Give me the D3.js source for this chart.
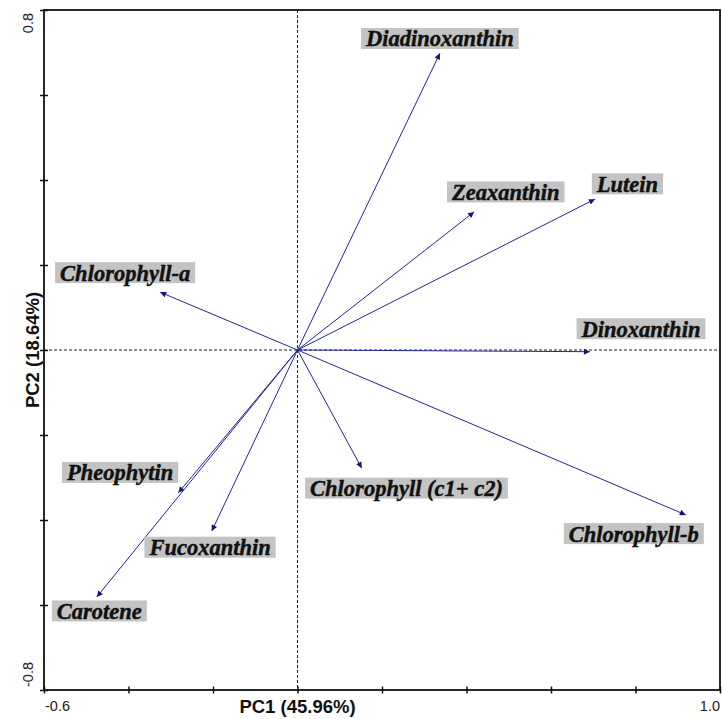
<!DOCTYPE html>
<html>
<head>
<meta charset="utf-8">
<script src="https://cdn.jsdelivr.net/npm/d3@7"></script>
<style>
  html, body { margin: 0; padding: 0; background: #fff; }
  svg { display: block; }
</style>
</head>
<body>
<svg id="chart" width="722" height="719"></svg>
<script>
// PCA loadings of pigment variables on the first two components
const variables = ["Diadinoxanthin", "Zeaxanthin", "Lutein", "Dinoxanthin", "Chlorophyll-b",
                   "Chlorophyll (c1+ c2)", "Chlorophyll-a", "Pheophytin", "Fucoxanthin", "Carotene"];
const pc1 = [0.337, 0.418, 0.704, 0.692, 0.919, 0.152, -0.325, -0.282, -0.203, -0.475];
const pc2 = [0.698, 0.325, 0.355, -0.004, -0.388, -0.278, 0.136, -0.336, -0.426, -0.581];

// Label anchor points (centre of each label, in PC units)
const labelPC1 = [0.337, 0.493, 0.781, 0.813, 0.796, 0.258, -0.408, -0.420, -0.207, -0.469];
const labelPC2 = [0.733, 0.372, 0.391, 0.050, -0.432, -0.325, 0.182, -0.288, -0.464, -0.614];

const xDomain = [-0.6, 1.0];
const yDomain = [-0.8, 0.8];
const xTicks = [-0.6, -0.4, -0.2, 0.0, 0.2, 0.4, 0.6, 0.8, 1.0];
const yTicks = [-0.8, -0.6, -0.4, -0.2, 0.0, 0.2, 0.4, 0.6, 0.8];
const xTitle = "PC1 (45.96%)";
const yTitle = "PC2 (18.64%)";

const svg = d3.select("#chart");
const plotL = 44, plotR = 720, plotT = 10, plotB = 690;

const x = d3.scaleLinear().domain(xDomain).range([plotL, plotR]);
const y = d3.scaleLinear().domain(yDomain).range([plotB, plotT]);

// zero reference lines
svg.append("line")
  .attr("x1", x(0)).attr("x2", x(0)).attr("y1", plotT).attr("y2", plotB)
  .attr("stroke", "#222").attr("stroke-width", 1).attr("stroke-dasharray", "3,2");
svg.append("line")
  .attr("x1", plotL).attr("x2", plotR).attr("y1", y(0)).attr("y2", y(0))
  .attr("stroke", "#222").attr("stroke-width", 1).attr("stroke-dasharray", "3,2");

// arrow marker
const defs = svg.append("defs");
defs.append("marker")
  .attr("id", "head")
  .attr("viewBox", "0 0 10 10")
  .attr("refX", 10).attr("refY", 5)
  .attr("markerUnits", "userSpaceOnUse")
  .attr("markerWidth", 8).attr("markerHeight", 6)
  .attr("orient", "auto")
  .append("path")
  .attr("d", "M0,0 L10,5 L0,10 Z")
  .attr("fill", "#14147a");

// loading vectors
svg.append("g")
  .selectAll("line")
  .data(variables)
  .join("line")
  .attr("x1", x(0)).attr("y1", y(0))
  .attr("x2", (d, i) => x(pc1[i]))
  .attr("y2", (d, i) => y(pc2[i]))
  .attr("stroke", "#24249a")
  .attr("stroke-width", 1)
  .attr("marker-end", "url(#head)");

// variable labels on grey boxes
const labels = svg.append("g")
  .selectAll("g")
  .data(variables)
  .join("g")
  .attr("transform", (d, i) => `translate(${x(labelPC1[i])},${y(labelPC2[i])})`);

labels.append("rect").attr("fill", "#c3c3c3");
const texts = labels.append("text")
  .attr("text-anchor", "middle")
  .attr("y", 8)
  .attr("font-family", "'Liberation Serif', 'Times New Roman', serif")
  .attr("font-weight", "bold")
  .attr("font-style", "italic")
  .attr("font-size", 22.5)
  .attr("fill", "#111")
  .attr("stroke", "#111")
  .attr("stroke-width", 0.45)
  .text(d => d);

texts.each(function () {
  const w = this.getComputedTextLength();
  d3.select(this.parentNode).select("rect")
    .attr("x", -w / 2 - 5).attr("y", -10.5)
    .attr("width", w + 10).attr("height", 21);
});

// axes with crossing ticks
const axB = svg.append("g")
  .attr("transform", `translate(0,${plotB})`)
  .call(d3.axisBottom(x).tickValues(xTicks).tickFormat("").tickSizeOuter(0));
axB.selectAll(".tick line").attr("y1", -3.5).attr("y2", 3.5).attr("stroke", "#111").attr("stroke-width", 1.5);
axB.select(".domain").remove();

const axL = svg.append("g")
  .attr("transform", `translate(${plotL},0)`)
  .call(d3.axisLeft(y).tickValues(yTicks).tickFormat("").tickSizeOuter(0));
axL.selectAll(".tick line").attr("x1", -4).attr("x2", 4).attr("stroke", "#111").attr("stroke-width", 1.5);
axL.select(".domain").remove();

// plot frame
svg.append("rect")
  .attr("x", plotL).attr("y", plotT)
  .attr("width", plotR - plotL).attr("height", plotB - plotT)
  .attr("fill", "none").attr("stroke", "#111").attr("stroke-width", 1.8);

// end tick labels
const tickFont = "'Liberation Sans', Arial, sans-serif";
svg.append("text")
  .attr("x", x(xDomain[0]) + 1).attr("y", 711)
  .attr("text-anchor", "start")
  .attr("font-family", tickFont).attr("font-size", 14.5).attr("fill", "#222")
  .text(xDomain[0].toFixed(1));
svg.append("text")
  .attr("x", x(xDomain[1])).attr("y", 711)
  .attr("text-anchor", "end")
  .attr("font-family", tickFont).attr("font-size", 14.5).attr("fill", "#222")
  .text(xDomain[1].toFixed(1));
svg.append("text")
  .attr("transform", `translate(33,${y(yDomain[1]) + 3}) rotate(-90)`)
  .attr("text-anchor", "end")
  .attr("font-family", tickFont).attr("font-size", 14.5).attr("fill", "#222")
  .text(yDomain[1].toFixed(1));
svg.append("text")
  .attr("transform", `translate(33,${y(yDomain[0]) - 3}) rotate(-90)`)
  .attr("text-anchor", "start")
  .attr("font-family", tickFont).attr("font-size", 14.5).attr("fill", "#222")
  .text(yDomain[0].toFixed(1));

// axis titles
svg.append("text")
  .attr("x", x(0)).attr("y", 713)
  .attr("text-anchor", "middle")
  .attr("font-family", tickFont).attr("font-weight", "bold").attr("font-size", 18.5).attr("fill", "#111")
  .text(xTitle);
svg.append("text")
  .attr("transform", `translate(39,${y(0)}) rotate(-90)`)
  .attr("text-anchor", "middle")
  .attr("font-family", tickFont).attr("font-weight", "bold").attr("font-size", 18.5).attr("fill", "#111")
  .text(yTitle);
</script>
</body>
</html>
